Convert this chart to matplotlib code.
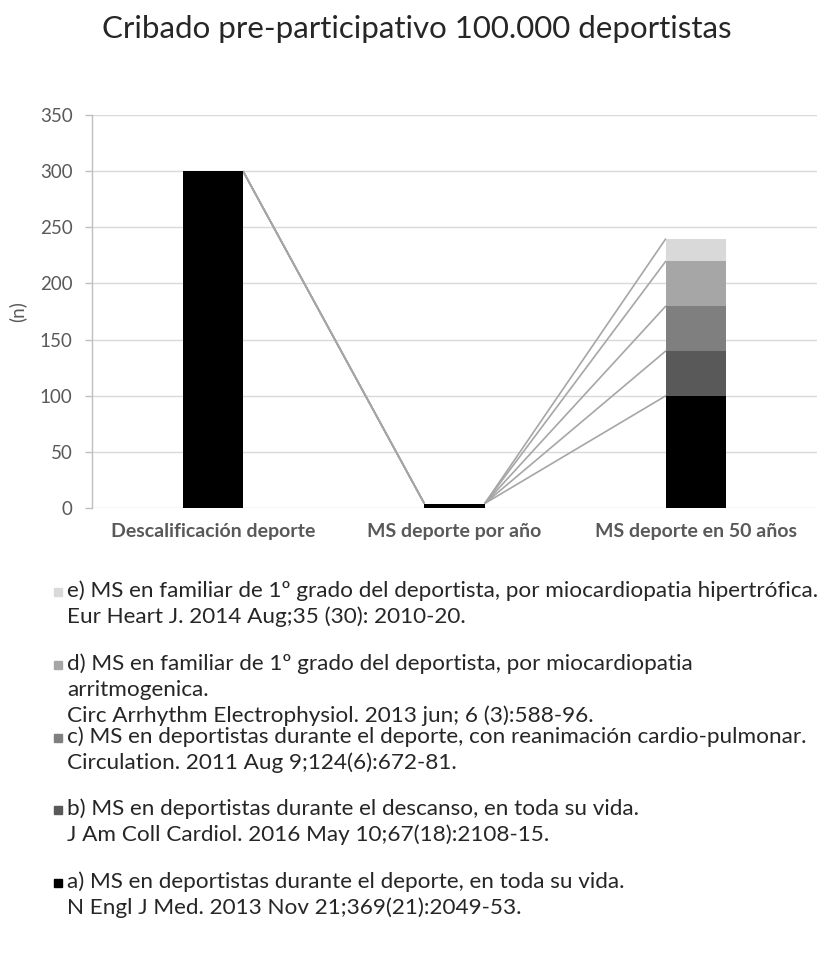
import matplotlib
matplotlib.use("Agg")
import matplotlib.pyplot as plt
from matplotlib.patches import Rectangle
import numpy as np

plt.rcParams['font.family'] = ['Lato', 'DejaVu Sans']

# Data
categories = ["Descalificación deporte", "MS deporte por año", "MS deporte en 50 años"]
series_names = ["a", "b", "c", "d", "e"]
series_values = {
    "a": [300, 4, 100],
    "b": [0, 0, 40],
    "c": [0, 0, 40],
    "d": [0, 0, 40],
    "e": [0, 0, 20],
}
series_colors = {
    "a": "#000000",
    "b": "#595959",
    "c": "#7f7f7f",
    "d": "#a6a6a6",
    "e": "#d9d9d9",
}
legend_texts = {
    "e": ["e) MS en familiar de 1º grado del deportista, por miocardiopatia hipertrófica.",
          "Eur Heart J. 2014 Aug;35 (30): 2010-20."],
    "d": ["d) MS en familiar de 1º grado del deportista, por miocardiopatia",
          "arritmogenica.",
          "Circ Arrhythm Electrophysiol. 2013 jun; 6 (3):588-96."],
    "c": ["c) MS en deportistas durante el deporte, con reanimación cardio-pulmonar.",
          "Circulation. 2011 Aug 9;124(6):672-81."],
    "b": ["b) MS en deportistas durante el descanso, en toda su vida.",
          "J Am Coll Cardiol. 2016 May 10;67(18):2108-15."],
    "a": ["a) MS en deportistas durante el deporte, en toda su vida.",
          "N Engl J Med. 2013 Nov 21;369(21):2049-53."],
}
y_ticks = [0, 50, 100, 150, 200, 250, 300, 350]
title = "Cribado pre-participativo 100.000 deportistas"
y_label = "(n)"

W, H = 834, 955
fig = plt.figure(figsize=(W / 100, H / 100), dpi=100)
ax = fig.add_axes([92 / W, 1 - 508 / H, (817 - 92) / W, (508 - 115) / H])

x = np.arange(len(categories))
bar_w = 0.25
bottoms = np.zeros(len(categories))
tops = {}
for name in series_names:
    vals = np.array(series_values[name], dtype=float)
    ax.bar(x, vals, bar_w, bottom=bottoms, color=series_colors[name], zorder=3)
    bottoms = bottoms + vals
    tops[name] = bottoms.copy()

# Series lines joining the tops of each stacked segment between neighbouring bars
for name in series_names:
    t = tops[name]
    for i in range(len(categories) - 1):
        ax.plot([x[i] + bar_w / 2, x[i + 1] - bar_w / 2], [t[i], t[i + 1]],
                color="#a6a6a6", lw=1.2, zorder=2, solid_capstyle="butt")

ax.set_xlim(-0.5, len(categories) - 0.5)
ax.set_ylim(0, 350)
ax.set_yticks(y_ticks)
ax.set_xticks(x)
ax.set_xticklabels(categories, fontsize=14, fontweight="bold", color="#595959")
ax.tick_params(axis="x", length=0, pad=11)
ax.tick_params(axis="y", length=5, width=1, color="#bfbfbf", labelsize=13.5,
               labelcolor="#595959", pad=9)
ax.grid(axis="y", color="#d9d9d9", lw=1, zorder=0)
ax.set_axisbelow(True)
for s in ["top", "right", "bottom"]:
    ax.spines[s].set_visible(False)
ax.spines["left"].set_color("#bfbfbf")
ax.spines["left"].set_linewidth(1)
ax.set_ylabel(y_label, fontsize=13.5, color="#595959", labelpad=10)

fig.text(0.5, 1 - 38 / H, title, ha="center", va="baseline", fontsize=22.5,
         color="#262626")

# Legend, listed top to bottom from the last series to the first
entry_y = [591, 664, 737, 809, 882]
line_step = 25.8
for name, y0 in zip(series_names[::-1], entry_y):
    fig.patches.append(Rectangle((54 / W, 1 - (y0 + 5) / H), 8 / W, 8 / H,
                                 transform=fig.transFigure,
                                 color=series_colors[name]))
    for j, line in enumerate(legend_texts[name]):
        fig.text(67 / W, 1 - (y0 + j * line_step) / H, line, ha="left",
                 va="center", fontsize=16.2, color="#262626")

fig.savefig("out.png", dpi=100)
